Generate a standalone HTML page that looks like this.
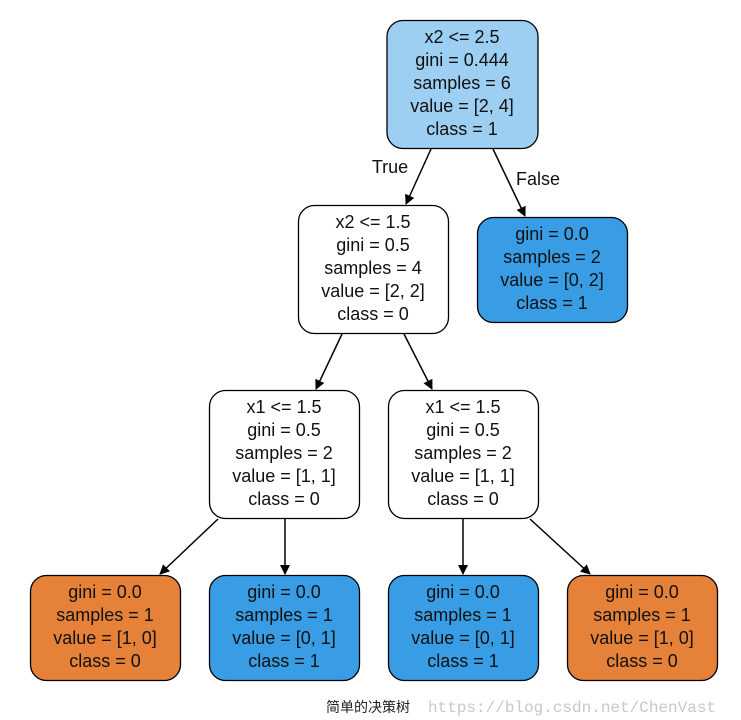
<!DOCTYPE html>
<html><head><meta charset="utf-8"><style>
html,body{margin:0;padding:0;background:#fff;width:741px;height:720px;overflow:hidden}
svg text{font-family:"Liberation Sans",Arial,sans-serif;font-size:18px;fill:#111}
</style></head><body>
<svg width="741" height="720" viewBox="0 0 741 720" xmlns="http://www.w3.org/2000/svg">
<defs><marker id="a" markerWidth="10" markerHeight="10" refX="9" refY="5" orient="auto" markerUnits="userSpaceOnUse"><path d="M0,0 L10,5 L0,10 z" fill="#000"/></marker></defs>
<g stroke="#000" stroke-width="1.3" fill="none">
<rect x="387" y="20.5" width="151" height="128" rx="16" fill="#9dcff3"/>
<rect x="298.5" y="205.5" width="150" height="128" rx="16" fill="#fff"/>
<rect x="477.5" y="217.5" width="150" height="105" rx="16" fill="#399de5"/>
<rect x="209.5" y="390.5" width="150" height="128" rx="16" fill="#fff"/>
<rect x="388.5" y="390.5" width="150" height="128" rx="16" fill="#fff"/>
<rect x="30.5" y="575.5" width="150" height="105" rx="16" fill="#e58139"/>
<rect x="209.5" y="575.5" width="150" height="105" rx="16" fill="#399de5"/>
<rect x="388.5" y="575.5" width="150" height="105" rx="16" fill="#399de5"/>
<rect x="567.5" y="575.5" width="150" height="105" rx="16" fill="#e58139"/>
<g stroke-width="1.5">
<line x1="431" y1="149" x2="406" y2="204" marker-end="url(#a)"/>
<line x1="493" y1="149" x2="525" y2="216" marker-end="url(#a)"/>
<line x1="342" y1="334" x2="316" y2="389" marker-end="url(#a)"/>
<line x1="404" y1="334" x2="432" y2="389" marker-end="url(#a)"/>
<line x1="218" y1="519" x2="160" y2="574" marker-end="url(#a)"/>
<line x1="285" y1="519" x2="285" y2="574" marker-end="url(#a)"/>
<line x1="463" y1="519" x2="463" y2="574" marker-end="url(#a)"/>
<line x1="530" y1="519" x2="590" y2="574" marker-end="url(#a)"/>
</g></g>
<g text-anchor="middle">
<text x="462" y="43">x2 &lt;= 2.5</text><text x="462" y="66">gini = 0.444</text><text x="462" y="89">samples = 6</text><text x="462" y="112">value = [2, 4]</text><text x="462" y="135">class = 1</text>
<text x="373" y="228">x2 &lt;= 1.5</text><text x="373" y="251">gini = 0.5</text><text x="373" y="274">samples = 4</text><text x="373" y="297">value = [2, 2]</text><text x="373" y="320">class = 0</text>
<text x="552" y="240">gini = 0.0</text><text x="552" y="263">samples = 2</text><text x="552" y="286">value = [0, 2]</text><text x="552" y="309">class = 1</text>
<text x="284" y="413">x1 &lt;= 1.5</text><text x="284" y="436">gini = 0.5</text><text x="284" y="459">samples = 2</text><text x="284" y="482">value = [1, 1]</text><text x="284" y="505">class = 0</text>
<text x="463" y="413">x1 &lt;= 1.5</text><text x="463" y="436">gini = 0.5</text><text x="463" y="459">samples = 2</text><text x="463" y="482">value = [1, 1]</text><text x="463" y="505">class = 0</text>
<text x="105" y="598">gini = 0.0</text><text x="105" y="621">samples = 1</text><text x="105" y="644">value = [1, 0]</text><text x="105" y="667">class = 0</text>
<text x="284" y="598">gini = 0.0</text><text x="284" y="621">samples = 1</text><text x="284" y="644">value = [0, 1]</text><text x="284" y="667">class = 1</text>
<text x="463" y="598">gini = 0.0</text><text x="463" y="621">samples = 1</text><text x="463" y="644">value = [0, 1]</text><text x="463" y="667">class = 1</text>
<text x="642" y="598">gini = 0.0</text><text x="642" y="621">samples = 1</text><text x="642" y="644">value = [1, 0]</text><text x="642" y="667">class = 0</text>
<text x="390" y="173">True</text><text x="538" y="185">False</text>
</g>
<text x="326" y="712" style="font-family:'Noto Sans CJK SC',sans-serif;font-size:14px;fill:#222">简单的决策树</text>
<text x="428" y="712" style="font-family:'Liberation Mono',monospace;font-size:16px;fill:#c8c8c8">https://blog.csdn.net/ChenVast</text>
</svg>
</body></html>
